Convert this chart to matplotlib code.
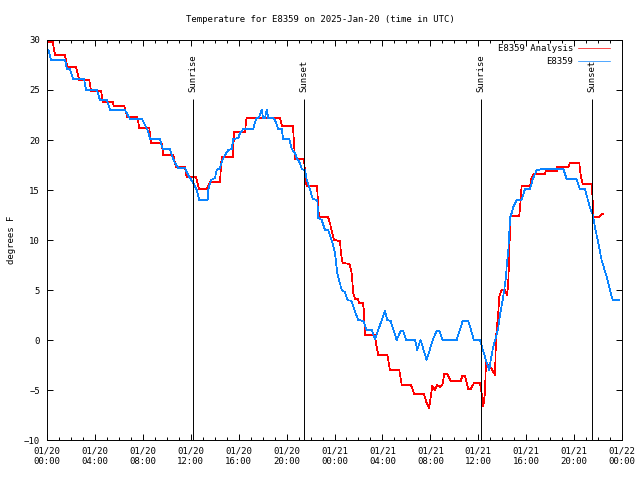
import matplotlib
matplotlib.use('Agg')
import matplotlib.pyplot as plt
import matplotlib.dates as mdates
import pandas as pd


start = pd.Timestamp('2025-01-20 00:00')

# hours after 01/20 00:00 UTC, temperature in F
analysis_hours = [0.00, 0.48, 0.67, 1.50, 1.69, 2.42, 2.70, 3.53, 3.67, 4.51,
                  4.67, 5.48, 5.59, 6.45, 6.70, 7.54, 7.70, 8.54, 8.68, 9.57,
                  9.71, 10.54, 10.77, 11.52, 11.66, 12.44, 12.69, 13.33, 13.61, 14.44,
                  14.58, 15.50, 15.63, 16.53, 16.65, 19.45, 19.62, 20.53, 20.70, 21.45,
                  21.54, 21.66, 22.54, 22.70, 23.46, 23.62, 23.79, 23.96, 24.46, 24.54,
                  24.68, 25.25, 25.43, 25.57, 25.71, 25.96, 26.04, 26.35, 26.46, 26.54,
                  27.38, 27.46, 27.65, 28.41, 28.63, 29.41, 29.61, 30.38, 30.66, 31.47,
                  31.69, 31.91, 32.03, 32.16, 32.39, 32.58, 32.80, 33.00, 33.16, 33.41,
                  33.70, 34.53, 34.67, 34.89, 35.17, 35.37, 35.64, 36.14, 36.28, 36.42,
                  36.56, 36.64, 36.98, 37.40, 37.48, 37.67, 37.75, 37.95, 38.23, 38.42,
                  38.51, 38.59, 38.65, 38.71, 39.42, 39.54, 39.62, 40.32, 40.46, 40.65,
                  41.57, 41.65, 42.55, 42.60, 43.51, 43.66, 44.43, 44.55, 44.72, 45.47,
                  45.55, 45.60, 46.10, 46.30, 46.44]
analysis_temp = [29.8, 29.8, 28.5, 28.5, 27.3, 27.3, 26.0, 26.0, 24.9, 24.9,
                 23.8, 23.8, 23.4, 23.4, 22.3, 22.3, 21.2, 21.2, 19.7, 19.7,
                 18.5, 18.5, 17.3, 17.3, 16.3, 16.3, 15.1, 15.1, 15.8, 15.8,
                 18.3, 18.3, 20.8, 20.8, 22.2, 22.2, 21.4, 21.4, 18.1, 18.1,
                 16.8, 15.4, 15.4, 12.3, 12.3, 11.7, 10.8, 10.0, 9.9, 8.7,
                 7.7, 7.6, 6.7, 4.7, 4.1, 4.1, 3.7, 3.7, 3.0, 0.5,
                 0.5, -0.3, -1.5, -1.5, -3.0, -3.0, -4.5, -4.5, -5.4, -5.4,
                 -6.3, -6.8, -5.7, -4.6, -5.0, -4.5, -4.7, -4.5, -3.4, -3.4,
                 -4.1, -4.1, -3.6, -3.6, -4.9, -4.9, -4.3, -4.3, -5.3, -6.6,
                 -5.3, -2.3, -2.6, -3.5, 0.2, 2.7, 4.3, 5.0, 5.0, 4.5,
                 6.0, 8.3, 11.5, 12.4, 12.4, 14.0, 15.4, 15.4, 16.3, 16.6,
                 16.6, 16.9, 16.9, 17.3, 17.3, 17.7, 17.7, 16.5, 15.6, 15.6,
                 14.0, 12.3, 12.3, 12.6, 12.6]

station_hours = [0.00, 0.13, 0.33, 1.50, 1.67, 1.92, 2.17, 3.09, 3.26, 4.17,
                 4.42, 5.01, 5.26, 6.51, 6.93, 7.93, 8.18, 8.43, 8.60, 9.43,
                 9.66, 10.27, 10.41, 10.68, 10.96, 11.52, 11.66, 11.88, 12.21, 12.50,
                 12.71, 13.41, 13.46, 13.69, 14.02, 14.17, 14.44, 14.58, 14.86, 15.13,
                 15.42, 15.55, 15.97, 16.11, 16.39, 17.22, 17.36, 17.50, 17.64, 17.78,
                 17.92, 18.05, 18.20, 18.34, 18.47, 18.89, 19.03, 19.31, 19.59, 19.72,
                 20.23, 20.43, 20.70, 20.84, 21.12, 21.26, 21.54, 21.68, 21.95, 22.18,
                 22.56, 22.65, 22.93, 23.21, 23.48, 23.76, 24.04, 24.23, 24.60, 24.87,
                 25.08, 25.43, 25.71, 25.99, 26.40, 26.69, 27.10, 27.38, 27.65, 28.21,
                 28.41, 28.69, 29.19, 29.52, 29.74, 29.97, 30.72, 30.91, 31.19, 31.69,
                 32.20, 32.53, 32.75, 33.03, 34.20, 34.70, 35.17, 35.64, 36.14, 36.56,
                 36.92, 37.04, 37.25, 37.48, 37.67, 37.81, 38.04, 38.17, 38.31, 38.37,
                 38.51, 38.59, 38.65, 38.79, 38.92, 39.21, 39.62, 39.90, 40.32, 40.46,
                 40.59, 40.88, 41.43, 43.10, 43.38, 44.21, 44.49, 44.91, 45.33, 45.58,
                 45.74, 46.02, 46.30, 46.72, 46.99, 47.22, 47.75]
station_temp = [29.0, 29.0, 28.0, 28.0, 27.1, 27.1, 26.1, 26.1, 25.0, 25.0,
                24.0, 24.0, 23.0, 23.0, 22.1, 22.1, 21.5, 20.9, 20.1, 20.1,
                19.1, 19.1, 18.5, 17.7, 17.2, 17.2, 16.8, 16.3, 15.7, 15.0,
                14.0, 14.0, 15.0, 16.0, 16.2, 17.0, 17.2, 17.8, 18.5, 19.0,
                19.1, 20.1, 20.2, 20.7, 21.1, 21.1, 21.8, 22.2, 22.2, 22.5,
                23.0, 22.2, 22.2, 23.0, 22.2, 22.2, 22.0, 21.1, 21.1, 20.1,
                20.1, 19.1, 18.7, 18.2, 17.7, 17.1, 17.0, 16.0, 15.1, 14.1,
                14.0, 12.2, 12.0, 11.0, 11.0, 10.0, 8.7, 6.7, 5.0, 4.8,
                4.0, 3.9, 2.8, 2.0, 1.9, 1.0, 1.0, 0.1, 1.0, 2.9,
                2.0, 1.9, 0.0, 0.9, 0.9, 0.0, 0.0, -1.0, 0.0, -2.0,
                0.0, 0.9, 0.9, 0.0, 0.0, 1.9, 1.9, 0.0, 0.0, -1.7,
                -3.0, -2.0, -0.7, 0.3, 1.2, 2.5, 4.0, 5.0, 6.3, 7.3,
                9.0, 10.7, 12.2, 12.7, 13.3, 14.0, 14.0, 15.1, 15.1, 15.7,
                16.2, 17.0, 17.1, 17.1, 16.1, 16.1, 15.1, 15.1, 13.2, 12.5,
                11.3, 9.7, 8.0, 6.3, 5.0, 4.0, 4.0]

sun_labels = ['Sunrise', 'Sunset', 'Sunrise', 'Sunset']
sun_times = ['2025-01-20 12:13', '2025-01-20 21:27', '2025-01-21 12:12', '2025-01-21 21:31']

plt.rcParams['font.family'] = ['DejaVu Sans Mono']
plt.rcParams['font.size'] = 6.5

fig = plt.figure(figsize=(6.4, 4.8), dpi=100)
ax = fig.add_axes([47 / 640, 40 / 480, 575 / 640, 400 / 480])

t_a = start + pd.to_timedelta(analysis_hours, unit='h')
t_s = start + pd.to_timedelta(station_hours, unit='h')

ax.plot(t_a, analysis_temp, color='#ff0000', lw=0.5, antialiased=False, label='E8359 Analysis')
ax.plot(t_s, station_temp, color='#0a84ff', lw=0.5, antialiased=False, label='E8359')

for lab, tm in zip(sun_labels, sun_times):
    ts = pd.Timestamp(tm)
    ax.vlines(ts, -10, 24.1, color='black', lw=0.7, zorder=5)
    ax.text(ts, 24.8, lab, rotation=90, ha='center', va='bottom')

ax.set_xlim(start, start + pd.Timedelta(hours=48))
ax.set_ylim(-10, 30)
ax.set_yticks(range(-10, 31, 5))

ax.xaxis.set_major_locator(mdates.HourLocator(byhour=range(0, 24, 4)))
ax.xaxis.set_minor_locator(mdates.HourLocator())
ax.xaxis.set_major_formatter(mdates.DateFormatter('%m/%d\n%H:%M'))

ax.tick_params(which='both', direction='in', top=True, right=True, width=0.7)
ax.tick_params(which='major', length=4.5, pad=5)
ax.tick_params(which='minor', length=2.5)
for s in ax.spines.values():
    s.set_linewidth(0.7)

ax.set_ylabel('degrees F', labelpad=6)
fig.suptitle('Temperature for E8359 on 2025-Jan-20 (time in UTC)', y=1 - 19 / 480, va='center', fontsize=6.5)

ax.legend(loc='upper right', bbox_to_anchor=(0.979, 0.989), frameon=False, markerfirst=False,
          handlelength=3.5, handletextpad=0.6, labelspacing=0.45, borderaxespad=0, borderpad=0)

fig.savefig('out.png', dpi=100)
